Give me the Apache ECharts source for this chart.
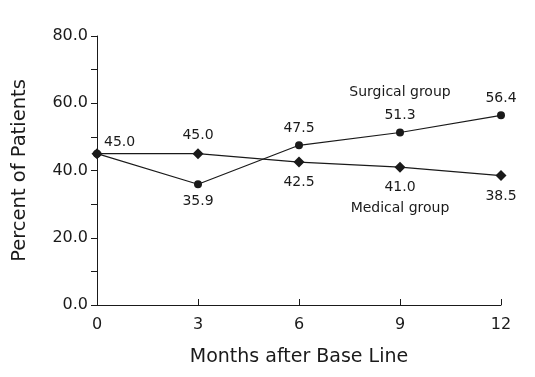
<!DOCTYPE html>
<html style="height: 100%">
<head>
<meta charset="utf-8">
<script src="https://cdn.jsdelivr.net/npm/echarts/dist/echarts.min.js"></script>
</head>
<body style="height: 100%; margin: 0; background: #fff">
<div id="container" style="width: 535px; height: 377px"></div>
<script>
// data
var months = [0, 3, 6, 9, 12];
var surgical = [45.0, 35.9, 47.5, 51.3, 56.4];
var medical = [45.0, 45.0, 42.5, 41.0, 38.5];
var groupNames = ['Surgical group', 'Medical group'];

var ink = '#1a1a1a';
var font = 'DejaVu Sans, sans-serif';

var chart = echarts.init(document.getElementById('container'));

function surgLabel(i) {
    if (i === 0) return { position: 'right', offset: [-2, -11] };
    if (i === 1) return { position: 'bottom', distance: 6 };
    return { position: 'top', distance: 6 };
}
function medLabel(i) {
    if (i === 0) return { show: false };
    if (i === 1) return { position: 'top', distance: 6 };
    return { position: 'bottom', distance: 8 };
}

var surgData = surgical.map(function (v, i) {
    return { value: [months[i], v], label: surgLabel(i) };
});
var medData = medical.map(function (v, i) {
    return { value: [months[i], v], label: medLabel(i) };
});

var labelStyle = {
    show: true,
    color: ink,
    fontFamily: font,
    fontSize: 14,
    formatter: function (p) { return p.value[1].toFixed(1); }
};

chart.setOption({
    animation: false,
    grid: { left: 97, right: 34, top: 36, bottom: 72 },
    xAxis: {
        type: 'value',
        min: 0, max: 12, interval: 3,
        name: 'Months after Base Line',
        nameLocation: 'middle',
        nameGap: 43,
        nameTextStyle: { color: ink, fontFamily: font, fontSize: 19 },
        axisLine: { lineStyle: { color: ink, width: 1 } },
        axisTick: { inside: true, length: 6, lineStyle: { color: ink } },
        axisLabel: { color: ink, fontFamily: font, fontSize: 16, margin: 12 },
        splitLine: { show: false }
    },
    yAxis: {
        type: 'value',
        min: 0, max: 80, interval: 10,
        name: 'Percent of Patients',
        nameLocation: 'middle',
        nameGap: 67,
        nameTextStyle: { color: ink, fontFamily: font, fontSize: 19.5 },
        axisLine: { show: true, lineStyle: { color: ink, width: 1 } },
        axisTick: { show: true, length: 6, lineStyle: { color: ink } },
        axisLabel: {
            color: ink, fontFamily: font, fontSize: 16, margin: 9,
            formatter: function (v) { return v % 20 === 0 ? v.toFixed(1) : ''; }
        },
        splitLine: { show: false }
    },
    series: [
        {
            name: groupNames[0],
            type: 'line',
            data: surgData,
            symbol: 'circle',
            symbolSize: 8,
            itemStyle: { color: ink },
            lineStyle: { color: ink, width: 1.2 },
            label: labelStyle,
            z: 3,
            markPoint: {
                symbol: 'circle', symbolSize: 0,
                label: { show: true, color: ink, fontFamily: font, fontSize: 14, formatter: '{b}' },
                data: [{ name: groupNames[0], coord: [9, 63.3] }]
            }
        },
        {
            name: groupNames[1],
            type: 'line',
            data: medData,
            symbol: 'diamond',
            symbolSize: 11,
            itemStyle: { color: ink },
            lineStyle: { color: ink, width: 1.2 },
            label: labelStyle,
            markPoint: {
                symbol: 'circle', symbolSize: 0,
                label: { show: true, color: ink, fontFamily: font, fontSize: 14, formatter: '{b}' },
                data: [{ name: groupNames[1], coord: [9, 28.8] }]
            }
        }
    ]
});
</script>
</body>
</html>
